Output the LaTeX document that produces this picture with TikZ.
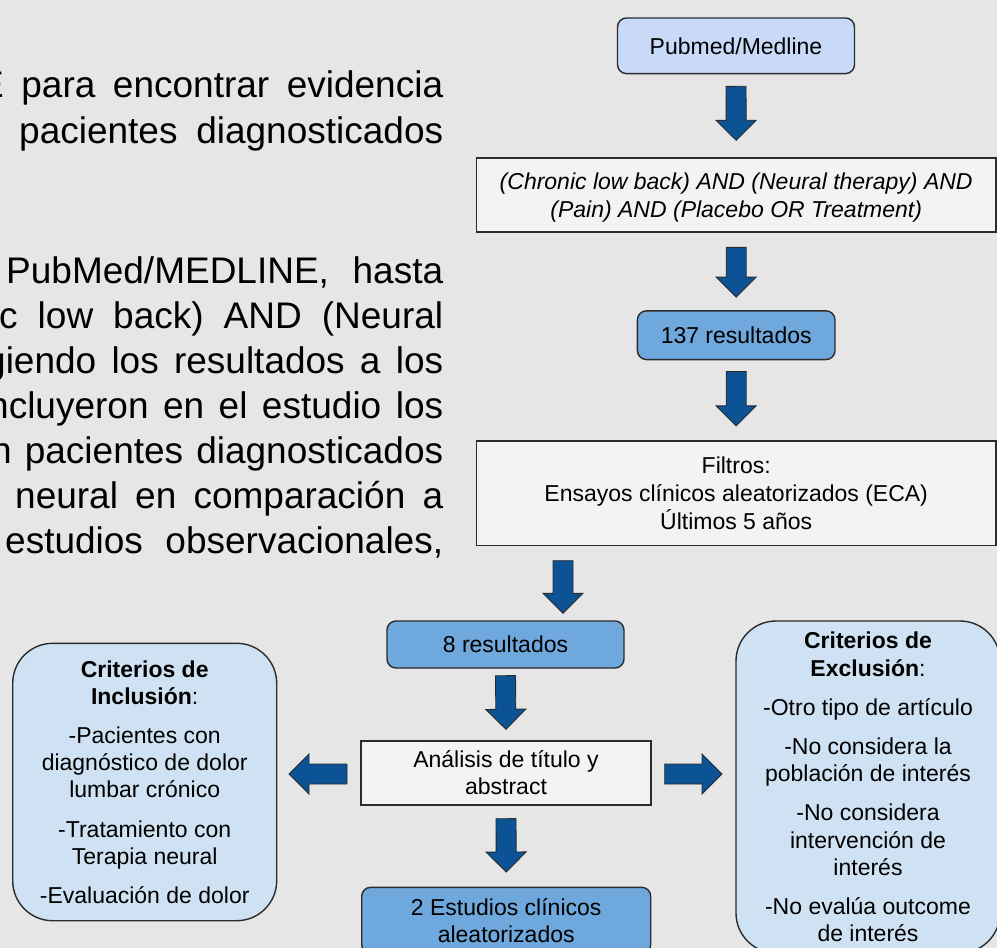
\documentclass[tikz,border=0pt]{standalone}
\usepackage{fontspec}
\setmainfont{Liberation Sans}
\usetikzlibrary{calc}
\definecolor{bgc}{HTML}{E6E6E6}
\definecolor{lightc}{HTML}{F3F3F3}
\definecolor{pubc}{HTML}{C9DAF8}
\definecolor{midc}{HTML}{6FA8DC}
\definecolor{critc}{HTML}{CFE2F3}
\definecolor{arrowc}{HTML}{0B5394}
\definecolor{edgec}{HTML}{2B2B2B}
\newcommand\st{\rule[-4.6pt]{0pt}{25.6pt}}
\newcommand\blockarrow[2]{%
  \coordinate (bah) at ($(#2)!20pt!(#1)$);
  \filldraw[arrowblk] ($(#1)!10pt!90:(#2)$) -- ($(bah)!10pt!90:(#2)$) -- ($(bah)!20pt!90:(#2)$) -- (#2) -- ($(bah)!20pt!-90:(#2)$) -- ($(bah)!10pt!-90:(#2)$) -- ($(#1)!10pt!-90:(#2)$) -- cycle;}
\tikzset{
  box/.style={draw=edgec, line width=1.4pt, inner sep=0pt, align=center, font=\fontsize{23}{27.2}\selectfont},
  rbox/.style={box, rounded corners=9pt},
  bigr/.style={box, rounded corners=40pt},
  arrowblk/.style={fill=arrowc, draw=edgec, line width=0.9pt, line join=miter},
  bodyline/.style={anchor=base west, inner sep=0pt, font=\fontsize{37}{45}\selectfont},
}
\begin{document}
\begin{tikzpicture}[x=1pt,y=-1pt]
\useasboundingbox (0,0) rectangle (997,948);
\fill[bgc] (0,0) rectangle (997,948);
\clip (0,0) rectangle (997,948);
% body text (cut at the left edge)
\node[bodyline] (b1) at (-21,97) {\makebox[464pt][s]{E para encontrar evidencia}};
\node[bodyline] (b2) at (19,143) {\makebox[424pt][s]{pacientes diagnosticados}};
\node[bodyline] (b3) at (6,283) {\makebox[437pt][s]{PubMed/MEDLINE, hasta}};
\node[bodyline] (b4) at (-1,328) {\makebox[444pt][s]{c low back) AND (Neural}};
\node[bodyline] (b5) at (-15,373) {\makebox[458pt][s]{giendo los resultados a los}};
\node[bodyline] (b6) at (-12,418) {\makebox[455pt][s]{ncluyeron en el estudio los}};
\node[bodyline] (b7) at (-9,463) {\makebox[452pt][s]{n pacientes diagnosticados}};
\node[bodyline] (b8) at (15,508) {\makebox[428pt][s]{neural en comparación a}};
\node[bodyline] (b9) at (5,553) {\makebox[438pt][s]{estudios observacionales,}};
% flowchart
\node[rbox, fill=pubc, minimum width=237pt, minimum height=55.6pt] (pub) at (736,45.8) {\st Pubmed/Medline};
\node[box, fill=lightc, minimum width=519.6pt, minimum height=74pt, font=\fontsize{23}{28}\selectfont\itshape] (query) at (736.2,195) {\st(Chronic low back) AND (Neural therapy) AND\\\st(Pain) AND (Placebo OR Treatment)};
\node[rbox, fill=midc, minimum width=197.6pt, minimum height=48.7pt] (r137) at (736.2,335.2) {\st 137 resultados};
\node[box, fill=lightc, minimum width=519.6pt, minimum height=104.4pt, font=\fontsize{23}{28.2}\selectfont] (filt) at (736.2,493.2) {\st Filtros:\\\st Ensayos clínicos aleatorizados (ECA)\\\st Últimos 5 años};
\node[rbox, fill=midc, minimum width=237pt, minimum height=47pt] (r8) at (505.5,644.5) {\st 8 resultados};
\node[box, fill=lightc, minimum width=290pt, minimum height=64pt] (ana) at (506,773) {\st Análisis de título y\\\st abstract};
\node[rbox, fill=midc, minimum width=289pt, minimum height=66.2pt] (est) at (506.2,920.4) {\st 2 Estudios clínicos\\\st aleatorizados};
\node[bigr, fill=critc, minimum width=264pt, minimum height=277.4pt] (incl) at (144.7,782) {\st\textbf{Criterios de}\\\st\textbf{Inclusión}:\\[12pt]\st-Pacientes con\\\st diagnóstico de dolor\\\st lumbar crónico\\[12pt]\st-Tratamiento con\\\st Terapia neural\\[12pt]\st-Evaluación de dolor};
\node[bigr, fill=critc, minimum width=264pt, minimum height=332pt] (excl) at (868,787) {\st\textbf{Criterios de}\\\st\textbf{Exclusión}:\\[12pt]\st-Otro tipo de artículo\\[12pt]\st-No considera la\\\st población de interés\\[12pt]\st-No considera\\\st intervención de\\\st interés\\[12pt]\st-No evalúa outcome\\\st de interés};
% block arrows
\coordinate (a1s) at ($(pub.south)+(0,12)$);
\coordinate (a1e) at ($(query.north)+(0,-17)$);
\coordinate (a2s) at ($(query.south)+(0,14.6)$);
\coordinate (a2e) at ($(r137.north)+(0,-13)$);
\coordinate (a3s) at ($(r137.south)+(0,11.3)$);
\coordinate (a3e) at ($(filt.north)+(0,-14.4)$);
\coordinate (a4s) at ($(filt.south)+(-173.2,14.6)$);
\coordinate (a4e) at ($(r8.north)+(57.5,-7)$);
\coordinate (a5s) at ($(r8.south)+(0,7)$);
\coordinate (a5e) at ($(ana.north)+(0,-11)$);
\coordinate (a6s) at ($(ana.south)+(0,13)$);
\coordinate (a6e) at ($(est.north)+(0,-14.6)$);
\coordinate (a7s) at ($(ana.west)+(-13.3,1)$);
\coordinate (a7e) at ($(incl.east |- ana.west)+(11.6,1)$);
\coordinate (a8s) at ($(ana.east)+(13,1)$);
\coordinate (a8e) at ($(excl.west |- ana.east)+(-13.3,1)$);
\blockarrow{a1s}{a1e}
\blockarrow{a2s}{a2e}
\blockarrow{a3s}{a3e}
\blockarrow{a4s}{a4e}
\blockarrow{a5s}{a5e}
\blockarrow{a6s}{a6e}
\blockarrow{a7s}{a7e}
\blockarrow{a8s}{a8e}
\end{tikzpicture}
\end{document}
